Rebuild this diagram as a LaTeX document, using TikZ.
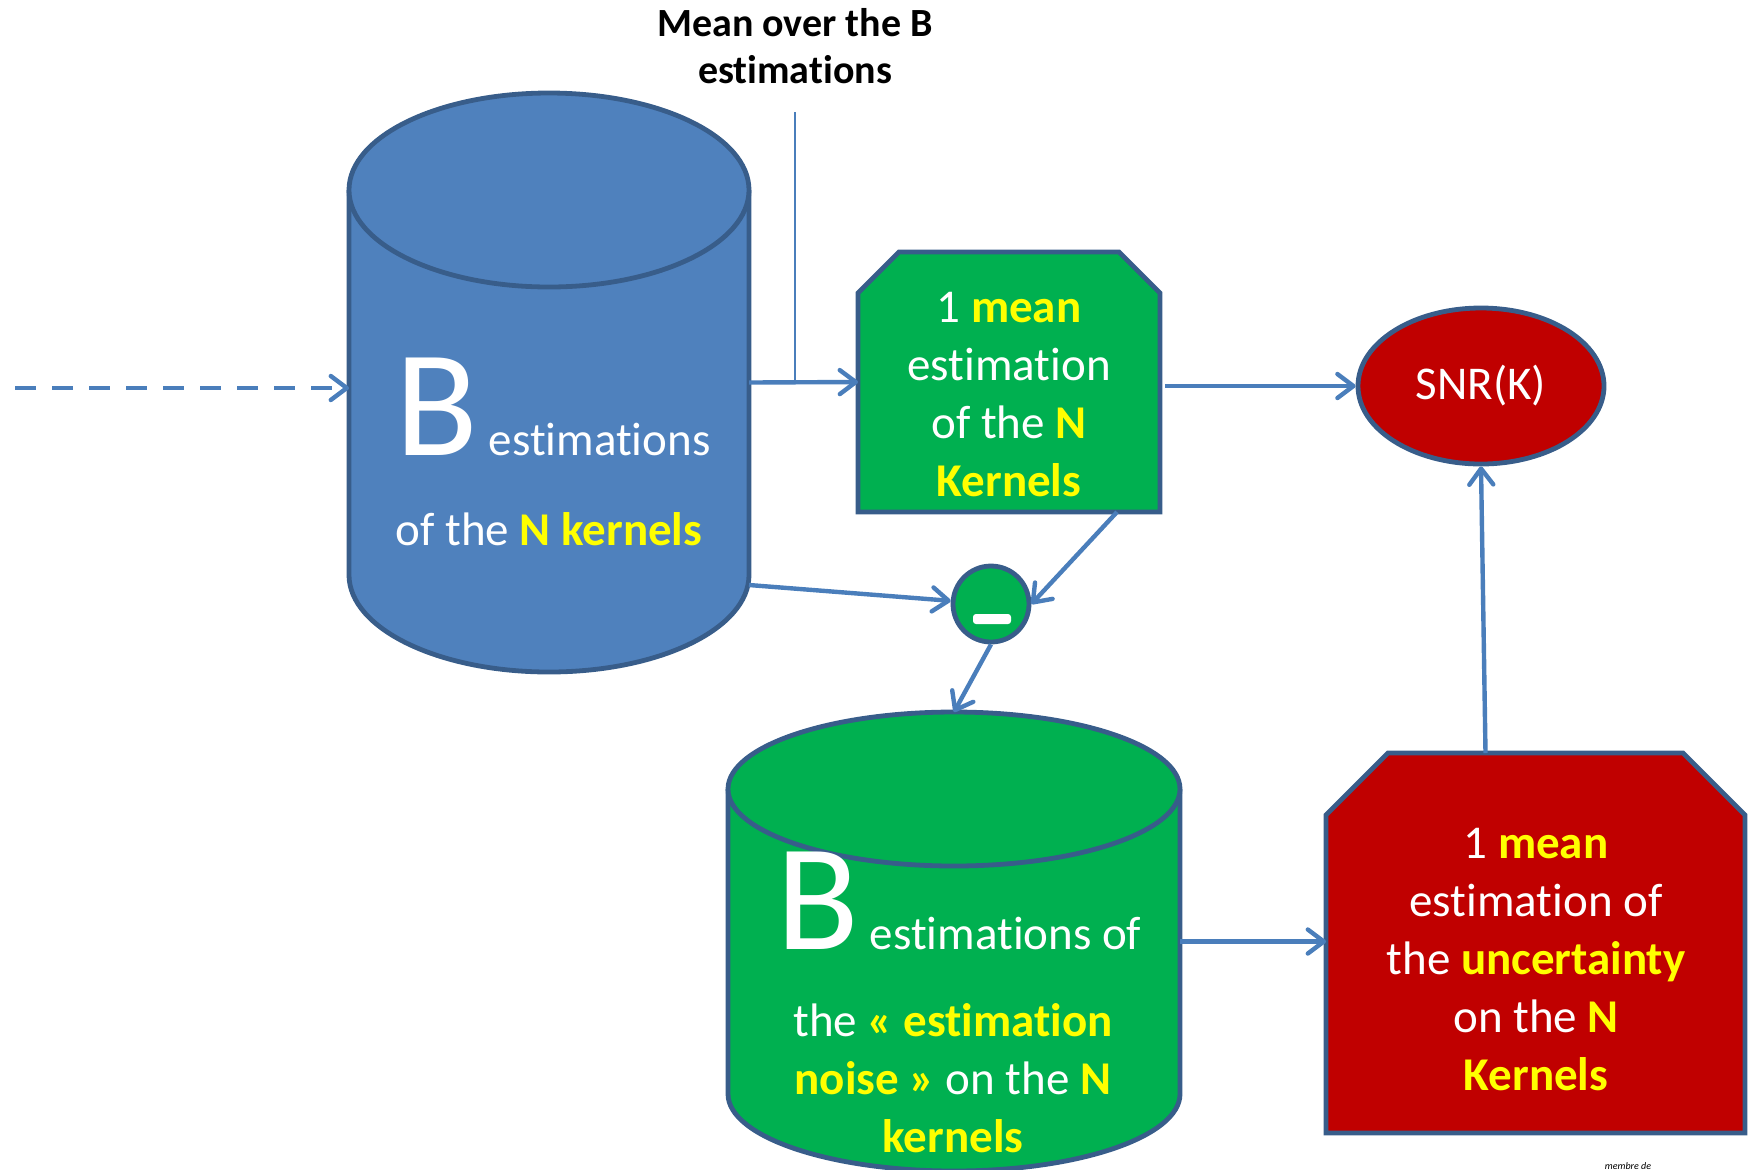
\documentclass[tikz,border=0pt]{standalone}
\usepackage{fontspec}
\setmainfont{Carlito}[Ligatures=NoCommon]
\usetikzlibrary{arrows.meta}
\usetikzlibrary{shapes.geometric}
\usepackage{xcolor}

\definecolor{kernblue}{HTML}{4F81BD}
\definecolor{darkline}{HTML}{385D8A}
\definecolor{arrblue}{HTML}{4A7EBB}
\definecolor{boxgreen}{HTML}{00B050}
\definecolor{boxred}{HTML}{C00000}
\definecolor{yel}{HTML}{FFFF00}
\newcommand{\hl}[1]{\textbf{\color{yel}#1}}

\begin{document}
\begin{tikzpicture}[x=0.5pt, y=-0.5pt]
        % ================= styles =================
        \tikzset{
            % borders of the shapes
            outline/.style={draw=darkline, line width=2.4pt},
            % connectors
            arr/.style={draw=arrblue, line width=2.2pt, -{Straight Barb[round, length=8pt, width=12pt]}},
            feedline/.style={dash pattern=on 10.5pt off 8pt},
            thinline/.style={draw=arrblue, line width=0.75pt},
            % invisible boxes giving anchors on the shapes
            anchorbox/.style={rectangle, inner sep=0pt, outer sep=0pt},
            % white text inside the shapes
            txt/.style={text=white, align=center, font=\fontsize{23.5}{29}\selectfont}
        }
        \clip (0,0) rectangle (1750,1169);

        % ================= 1. cylinder of the B estimations =================
        \path[outline, fill=kernblue] (349,190) -- (349,575)
            arc[start angle=180, end angle=360, x radius=100pt, y radius=48.5pt] -- (749,190);
        \path[outline, fill=kernblue] (549,190) ellipse[x radius=100pt, y radius=48.5pt];
        \node[anchorbox, minimum width=200pt, minimum height=289.5pt] (kern) at (549,382.5) {};
        \node[txt, anchor=base] (kerntxt) at (553,455) {{\fontsize{76}{76}\selectfont B} estimations};
        \node[txt, anchor=base] (kerntxt2) at (549,545) {of the \hl{N kernels}};

        % ================= 2. cylinder of the noise =================
        \path[outline, fill=boxgreen] (728,789) -- (728,1094)
            arc[start angle=180, end angle=360, x radius=113pt, y radius=38.5pt] -- (1180,789);
        \path[outline, fill=boxgreen] (954,789) ellipse[x radius=113pt, y radius=38.5pt];
        \node[anchorbox, minimum width=226pt, minimum height=229.5pt] (noise) at (954,941.5) {};
        \node[txt, anchor=base] (noisetxt) at (959,949) {{\fontsize{76}{76}\selectfont B} estimations of};
        \node[txt] (noisetxt2) at (953,1078) {the \hl{« estimation}\\\hl{noise »} on the \hl{N}\\\hl{kernels}};

        % ================= 3. boxes and SNR =================
        % mean box, top corners cut
        \path[outline, fill=boxgreen] (858,293) -- (899,252) -- (1119,252) -- (1160,293) -- (1160,512) -- (858,512) -- cycle;
        \node[anchorbox, minimum width=151pt, minimum height=130pt] (meanbox) at (1009,382) {};
        \node[txt] (meantxt) at (1009,394.5) {1 \hl{mean}\\estimation\\of the \hl{N}\\\hl{Kernels}};

        % uncertainty box, top corners cut
        \path[outline, fill=boxred] (1326,815) -- (1388,753) -- (1683,753) -- (1745,815) -- (1745,1133) -- (1326,1133) -- cycle;
        \node[anchorbox, minimum width=209.5pt, minimum height=190pt] (uncert) at (1535.5,943) {};
        \node[txt] (uncerttxt) at (1536,960) {1 \hl{mean}\\estimation of\\the \hl{uncertainty}\\on the \hl{N}\\\hl{Kernels}};

        \node[ellipse, outline, fill=boxred, minimum width=123pt, minimum height=78pt, txt] (snr) at (1481,386) {SNR(K)};

        % --- difference ---
        \node[circle, outline, fill=boxgreen, minimum size=38pt, inner sep=0pt] (minus) at (991,604) {};
        \node[fill=white, rounded corners=1.5pt, minimum width=19pt, minimum height=5pt, inner sep=0pt] (minusbar) at (992,619) {};

        % ================= 4. label on top =================
        \node[font=\bfseries\fontsize{20}{23.5}\selectfont, align=center] (meanlbl) at (795,46) {Mean over the B\\estimations};
        \coordinate (lbltail) at (795,112);
        \draw[thinline] (lbltail) -- (lbltail |- kern.east);

        % ================= 5. connectors =================
        \coordinate (feed) at (15,388);
        \draw[arr, feedline] (feed) -- (feed -| kern.west);
        \draw[arr] (kern.east) -- (meanbox.west);
        \draw[arr] ([yshift=-101.25pt]kern.east) -- (minus);
        \draw[arr] ([xshift=54pt]meanbox.south) -- (minus.east);
        \draw[arr] (minus.south) -- (noise.north);
        \draw[arr] ([xshift=2.5pt]meanbox.east |- snr) -- (snr.west);
        \draw[arr] (noise.east) -- (noise.east -| uncert.west);
        \draw[arr] ([xshift=-25pt]uncert.north) -- (snr.south);

        % small mark at the bottom
        \node[font=\fontsize{5}{5}\selectfont\itshape] (logo) at (1628,1166) {membre de};
\end{tikzpicture}
\end{document}
